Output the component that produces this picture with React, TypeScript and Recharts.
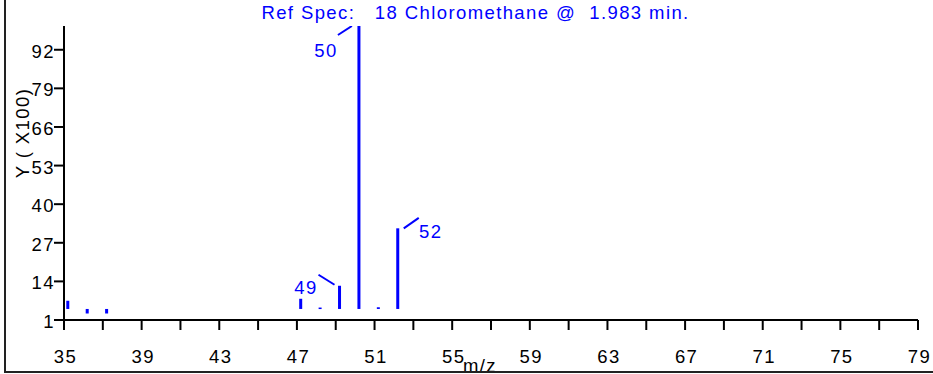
import { ComposedChart, Bar, Line, XAxis, YAxis } from "recharts"

// m/z peaks of the reference spectrum (relative abundance, base peak = 100)
const mzValues = [35, 36, 37, 47, 48, 49, 50, 51, 52]
const abundance = [2.9, -1.6, -1.6, 3.6, 0.5, 8.2, 100, 0.6, 28.5]

const xTicks = [35, 37, 39, 41, 43, 45, 47, 49, 51, 53, 55, 57, 59, 61, 63, 65, 67, 69, 71, 73, 75, 77, 79]
const xLabelEvery = 4
const yTicks = [1, 14, 27, 40, 53, 66, 79, 92]

const title = "Ref Spec:   18 Chloromethane @  1.983 min."
const yTitle = "Y ( X100)"
const xTitle = "m/z"

// which peaks get a leader line + label, and which way the leader goes
const peakNotes: Record<number, "left-down" | "left-up" | "right-up"> = {
  49: "left-up",
  50: "left-down",
  52: "right-up",
}

const data = mzValues.map((mz, i) => ({ mz, abundance: abundance[i] }))

const BLUE = "#0000ff"
const FONT = "'Liberation Sans', Arial, sans-serif"
const textStyle = { letterSpacing: 1.4 }
const FS = 18.5

const PeakShape = (props: any) => {
  const { x, y, width, height } = props
  const mz = props.payload?.mz ?? props.mz
  const cx = x + width / 2 + 4
  const top = Math.min(y, y + height)
  const h = Math.max(Math.abs(height), 1.5)
  const note = peakNotes[mz]
  let extra = null
  if (note === "left-down") {
    extra = (
      <g>
        <line x1={cx - 7} y1={top} x2={cx - 21} y2={top + 9} stroke={BLUE} strokeWidth={2} />
        <text x={cx - 33} y={top + 30.5} textAnchor="middle" fontSize={FS} fontFamily={FONT} fill={BLUE} style={textStyle}>{mz}</text>
      </g>
    )
  } else if (note === "left-up") {
    extra = (
      <g>
        <line x1={cx - 5} y1={top - 1} x2={cx - 21} y2={top - 11} stroke={BLUE} strokeWidth={2} />
        <text x={cx - 33.5} y={top + 8.6} textAnchor="middle" fontSize={FS} fontFamily={FONT} fill={BLUE} style={textStyle}>{mz}</text>
      </g>
    )
  } else if (note === "right-up") {
    extra = (
      <g>
        <line x1={cx + 6} y1={top} x2={cx + 21} y2={top - 10.5} stroke={BLUE} strokeWidth={2} />
        <text x={cx + 33} y={top + 9.4} textAnchor="middle" fontSize={FS} fontFamily={FONT} fill={BLUE} style={textStyle}>{mz}</text>
      </g>
    )
  }
  return (
    <g>
      <rect x={cx - 1.5} y={top} width={3} height={h} fill={BLUE} />
      {extra}
    </g>
  )
}

const XTick = (props: any) => {
  const { x, y, payload } = props
  const v = payload.value
  if ((v - xTicks[0]) % xLabelEvery !== 0) return null
  return (
    <text x={x + 1.5} y={y + 31} textAnchor="middle" fontSize={FS} fontFamily={FONT} fill="#000" style={textStyle}>
      {v}
    </text>
  )
}

const YTick = (props: any) => {
  const { x, y, payload } = props
  return (
    <text x={x + 1} y={y + 8} textAnchor="end" fontSize={FS} fontFamily={FONT} fill="#000" style={textStyle}>
      {payload.value}
    </text>
  )
}

export default function App() {
  return (
    <div style={{ position: "absolute", left: 0, top: 0, width: 933, height: 374, background: "#fff", overflow: "hidden" }}>
      <ComposedChart width={933} height={374} data={data} margin={{ top: 26, right: 15, left: 0, bottom: 0 }} barSize={3}>
        <XAxis
          dataKey="mz"
          type="number"
          domain={[35, 79]}
          ticks={xTicks}
          interval={0}
          height={54}
          tickSize={10}
          tickMargin={2}
          allowDataOverflow
          axisLine={{ stroke: "#000", strokeWidth: 2 }}
          tickLine={{ stroke: "#000", strokeWidth: 2 }}
          tick={<XTick />}
        />
        <YAxis
          yAxisId="scale"
          type="number"
          domain={[1, 100]}
          ticks={yTicks}
          interval={0}
          width={64}
          tickSize={10}
          tickMargin={0}
          allowDataOverflow
          axisLine={{ stroke: "#000", strokeWidth: 2 }}
          tickLine={{ stroke: "#000", strokeWidth: 2 }}
          tick={<YTick />}
        />
        <YAxis yAxisId="peaks" orientation="right" width={0} type="number" domain={[-3.9, 100]} allowDataOverflow hide />
        <Bar yAxisId="peaks" dataKey="abundance" fill={BLUE} shape={<PeakShape />} isAnimationActive={false} />
        {/* invisible series so the labelled Y scale gets drawn */}
        <Line yAxisId="scale" dataKey="abundance" stroke="none" dot={false} activeDot={false} isAnimationActive={false} />
      </ComposedChart>
      <svg width={933} height={374} style={{ position: "absolute", left: 0, top: 0, pointerEvents: "none" }}>
        <text x={475.5} y={19} textAnchor="middle" fontSize={FS} fontFamily={FONT} fill={BLUE} style={{ whiteSpace: "pre", ...textStyle }}>
          {title}
        </text>
        <text x={29} y={133} transform="rotate(-90 29 133)" textAnchor="middle" fontSize={FS} fontFamily={FONT} fill="#000" style={{ whiteSpace: "pre", ...textStyle }}>
          {yTitle}
        </text>
        <text x={480} y={372} textAnchor="middle" fontSize={FS} fontFamily={FONT} fill="#000" style={textStyle}>
          {xTitle}
        </text>
      </svg>
      <div
        style={{
          position: "absolute",
          left: 4,
          top: 0,
          width: 929,
          height: 371,
          borderLeft: "2px solid #222",
          borderBottom: "2px solid #222",
          pointerEvents: "none",
        }}
      />
    </div>
  )
}
